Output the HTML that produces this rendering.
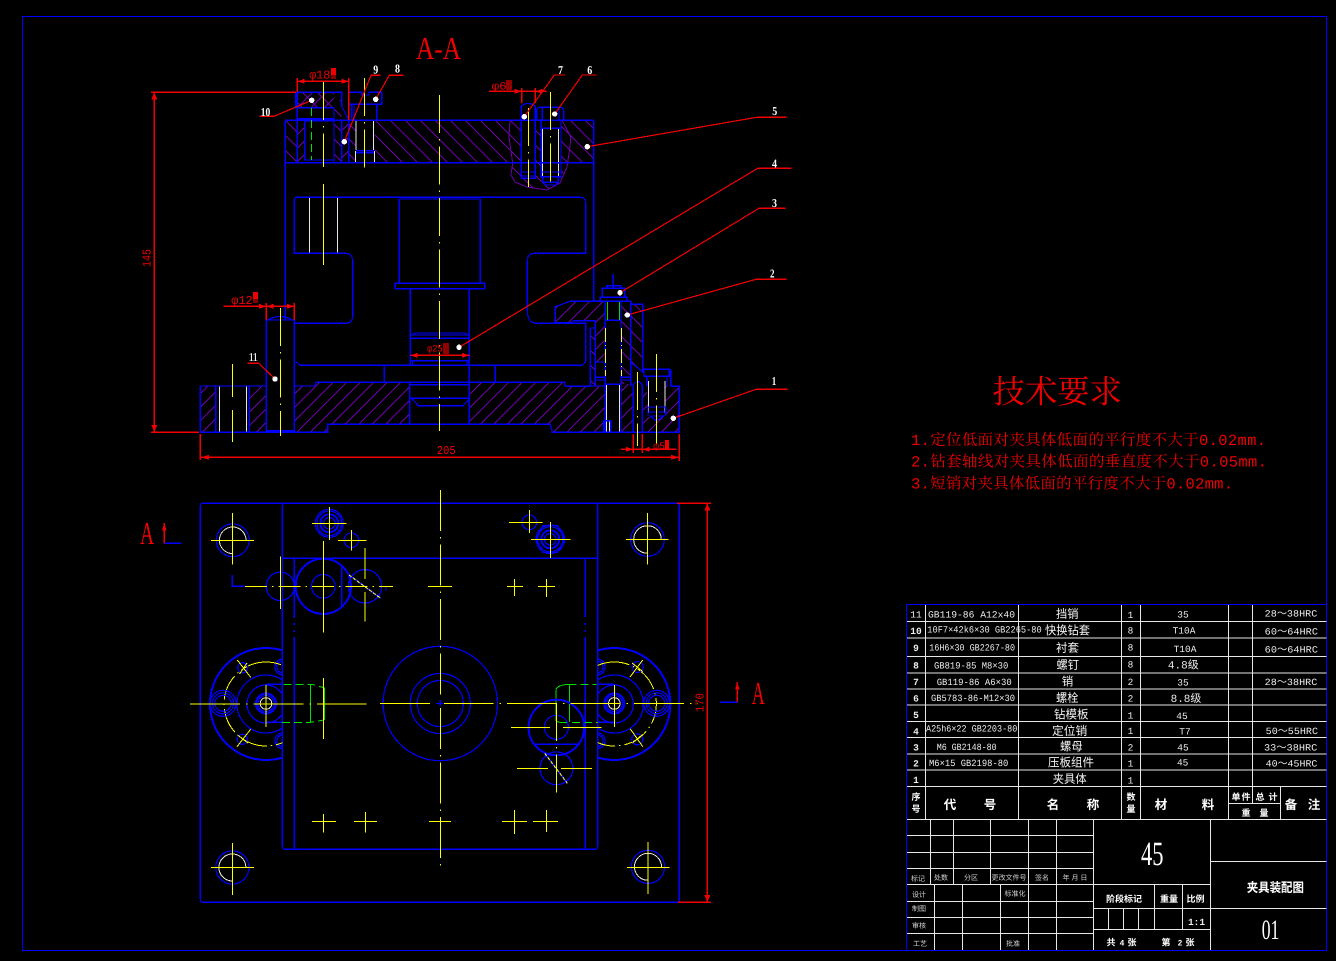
<!DOCTYPE html>
<html lang="zh">
<head>
<meta charset="utf-8">
<title>夹具装配图</title>
<style>
html,body{margin:0;padding:0;background:#000;width:1336px;height:961px;overflow:hidden}
svg{display:block}
svg *{shape-rendering:crispEdges}
.b{stroke:#0000ff;stroke-width:1.2;fill:none}
.bt{stroke:#0000ff;stroke-width:2;fill:none}
.y{stroke:#ffff00;stroke-width:1;fill:none}
.yd{stroke:#ffff00;stroke-width:1;fill:none;stroke-dasharray:38 6 1.5 6}
.yr{stroke:#ffff00;stroke-width:1;fill:none;stroke-dasharray:22 5 1.5 5}
.g{stroke:#00e000;stroke-width:1;fill:none}
.gd{stroke:#00e000;stroke-width:1;fill:none;stroke-dasharray:8 4}
.w{stroke:#e6e6e6;stroke-width:1;fill:none}
.r{stroke:#f00000;stroke-width:1.2;fill:none}
.p{stroke:#6c00a8;stroke-width:1;fill:none}
text{font-family:"Liberation Mono","Noto Sans CJK SC",monospace;fill:#fff;stroke:none;text-rendering:geometricPrecision}
.t9{font-size:9.5px;fill:#ececec}
.cn{font-family:"Liberation Sans","Noto Sans CJK SC",sans-serif;font-size:12px;fill:#f2f2f2}
.cs{font-family:"Liberation Sans","Noto Sans CJK SC",sans-serif;font-size:7px;fill:#d0d0d0}
.cb{font-family:"Liberation Sans","Noto Sans CJK SC",sans-serif;font-size:12.5px;font-weight:700;fill:#fff}
.cm{font-family:"Liberation Sans","Noto Sans CJK SC",sans-serif;font-size:9px;font-weight:700;fill:#fff}
.lab{font-family:"Liberation Serif",serif;font-size:12px;font-weight:700;fill:#fff}
.dim{font-family:"Liberation Mono",monospace;font-size:12px;fill:#f00000}
.req{font-family:"Liberation Mono","Noto Serif CJK SC",serif;font-size:15.5px;fill:#f00000}
.big{font-family:"Liberation Serif",serif;fill:#f00000}
</style>
</head>
<body>
<svg xmlns="http://www.w3.org/2000/svg" width="1336" height="961" viewBox="0 0 1336 961">
<defs>
<pattern id="hf" patternUnits="userSpaceOnUse" width="13.5" height="13.5"><path d="M-1 1L1 -1M0 13.5L13.5 0M12.5 14.5L14.5 12.5" stroke="#6c00a8" stroke-width="1" fill="none"/></pattern>
<pattern id="hb" patternUnits="userSpaceOnUse" width="15" height="15"><path d="M-1 14L1 16M0 0L15 15M14 -1L16 1" stroke="#6c00a8" stroke-width="1" fill="none"/></pattern>
<clipPath id="cl"><rect x="190" y="630" width="92.3" height="140"/></clipPath>
<clipPath id="cr"><rect x="597.7" y="630" width="92" height="140"/></clipPath>
</defs>

<rect x="0" y="0" width="1336" height="961" fill="#000"/>
<rect class="b" x="22.5" y="16.5" width="1304" height="934"/>

<!-- ============ SECTION VIEW: HATCH ============ -->
<g stroke="none">
<rect x="285.3" y="120.3" width="12" height="42.4" fill="url(#hb)"/>
<rect x="297.3" y="120.3" width="7.4" height="42.4" fill="url(#hf)"/>
<rect x="334" y="120.3" width="7.7" height="42.4" fill="url(#hb)"/>
<rect x="341.7" y="120.3" width="7" height="42.4" fill="url(#hf)"/>
<rect x="297.3" y="92.3" width="36.7" height="15.4" fill="url(#hf)"/>
<rect x="297.3" y="92.3" width="36.7" height="15.4" fill="url(#hb)"/>
<rect x="334" y="100" width="7.7" height="20" fill="url(#hb)"/>
<rect x="348.7" y="120.3" width="7.3" height="42.4" fill="url(#hb)"/>
<rect x="374.7" y="120.3" width="135.3" height="42.4" fill="url(#hb)"/>
<rect x="564" y="120.3" width="29.7" height="42.4" fill="url(#hb)"/>
<path d="M510 120L509 137L512.7 163L511 175L515 182L527 187L547 190L560 183L567 167L570 147L570.7 137L562 120Z" fill="url(#hb)"/>
<rect x="521.3" y="103" width="14" height="76" fill="#000"/>
<rect x="541.3" y="108" width="19.7" height="75" fill="#000"/>
<rect x="200.3" y="386" width="15.4" height="46.3" fill="url(#hf)"/>
<rect x="249.3" y="386" width="17" height="46.3" fill="url(#hf)"/>
<path d="M294.3 386L314.7 386L316 382.3L409.7 382.3L409.7 424L327.7 424L327.7 432.3L294.3 432.3Z" fill="url(#hf)"/>
<path d="M469.3 382.3L565 382.3L565 386.3L605.3 386.3L605.3 432.3L552 432.3L552 430L550 424.3L469.3 424.3Z" fill="url(#hf)"/>
<rect x="621" y="384" width="12.3" height="48.3" fill="url(#hf)"/>
<path d="M642.3 386L646.7 386L648 407L648 416L656 421L665.7 416L665.7 386L679.3 386L679.3 432.3L642.3 432.3Z" fill="url(#hf)"/>
<path d="M555.3 306.7L570 301.3L605.3 301.3L605.3 320.3L595.7 320.3L574 320.7L571.7 322.7L555.3 322.7Z" fill="url(#hf)"/>
<rect x="621" y="301.3" width="9.7" height="82.7" fill="url(#hb)"/>
<path d="M630.7 304.3L642.7 304.3L642.7 372L630.7 362Z" fill="url(#hb)"/>
<rect x="595.7" y="320.3" width="9.6" height="41.7" fill="url(#hf)"/>
<rect x="590.3" y="328" width="5" height="58" fill="url(#hb)"/>
</g>
<path class="p" d="M510 120L509 137L512.7 163L511 175L515 182L527 187L547 190L560 183L567 167L570 147L570.7 137L562 120"/>

<!-- ============ SECTION VIEW: WHITE ============ -->
<path class="w" d="M356 121V150M373.7 121V150M355.3 151V163M374.7 151V163M309.3 197V253M337.3 197V253M219.3 386V432M246.3 386V432M542.7 128V180M558.3 128V180M606.7 384V432M619.7 384V432M605 421V432M609.7 421V432M648.3 381V413M665 381V413"/>

<!-- ============ SECTION VIEW: BLUE ============ -->
<path class="b" d="M285.3 120.3H593.7M285.3 162.7H593.7M285.3 120.3V320M593.7 120.3V301.3"/>
<path class="b" d="M295.7 92.3H341.7V107M295.7 92.3V107.7H334M297.3 92.3V162.7M334 107.7V162.7M297.3 118.7H334M348.7 120.3V162.7M341.7 120.3V162.7M304.7 121H334M304.7 121V160H334M341.7 106L348.7 120"/>
<path class="b" d="M348.7 92.3H361.7V95H369V92.3H381.7V104.3H348.7ZM351.7 104.3V120M354 104.3V120M376.7 104.3V120M356 150.7H374M356 152.7H374"/>
<!-- pin 7 and bolt 6 -->
<path class="b" d="M521.3 178.3V106Q528 101 535.3 106V178.3ZM521.3 172H535.3M521.3 176H535.3"/>
<path class="b" d="M536.7 120V111Q536.7 107.3 540 107.3H560Q563.7 107.3 563.7 111V120M536.7 120H563.7M542.3 107.3V120M559 107.3V120M541.3 120V178M561 120V178M541.3 128.3H561M541.3 172H561M541.3 176.7H561M542.7 176.7V182.3H558.3V176.7M543 182.3L545 185H556L558 182.3"/>
<!-- column body -->
<path class="b" d="M296 197.3H580Q585.7 197.3 585.7 203V253.3H535Q527.3 253.3 527.3 261V310Q527.3 323.3 536.7 323.3H585.7V361.7L582.3 365.3H300L296 361.7M294.3 320V432.3"/>
<path class="b" d="M294.3 200Q294.3 197.3 297 197.3M294.3 200V253.3H345Q352.7 253.3 352.7 261V316Q352.7 323.3 345 323.3H294.3"/>
<path class="b" d="M399.3 199V283.3M399.3 199H480.3M480.3 199V283.3M395.3 283.3H484.7V288.7H395.3ZM410.3 288.7V365.3M469.3 288.7V382.3M410.3 335H469.3M412.5 335L415 333H465L467.5 335M410.3 338.3H469.3M410.3 360.7H469.3M412.5 360.7V365M467 360.7V365M384.3 365.3V382.3M495.3 365.3V382.3"/>
<!-- base -->
<path class="b" d="M200.3 386H266.3M294.3 386H314.7L316 382.3H565V386.3H590.3M670.7 386.3H679.3V432.3H552V430L550 424.3H327.7V432.3H200.3V386M215.7 386V432.3M249.3 386V432.3M409.7 382.3V424.3M469.3 382.3V424.3M410 384.7H469M410 398.3H469.3M411.7 398.3L418.3 405.7H463L470 398.3"/>
<path class="b" d="M266.3 432.3V320H294.3M266.3 430.7H294.3M268 320Q280 313 292.6 320"/>
<!-- clamp -->
<path class="b" d="M555.3 322.7V306.7L570 301.3H630.7V386M555.3 322.7H571.7L574 320.7H595.7M630.7 304.3H642.7V372L630.7 362M595.3 320.3V386M590.3 328H595.3M590.3 328V386H605.3M595.3 362H605.3"/>
<path class="b" d="M605.3 301.3V432.3M621 301.3V432.3M605.3 320.3H621M605.3 384.3H621M602.3 297.3V288.3H624.7V297.3M606.7 288.3V285.7H620.7V288.3M600.3 301.3V297.3H626.7V301.3M613.3 274V288M595.3 377.3H605.3M595.3 380H605.3M621 377.3H630.7M621 380H630.7M603.7 420.7H610.7V432.3M603.7 420.7V432.3"/>
<path class="b" d="M633.3 432.3V385Q637.8 378 642.3 385V432.3"/>
<path class="b" d="M644 376.3V369.3H669.3V376.3ZM669.3 370H670.7V386M646.7 376.3V386M667 376.3V386M648 407H665.7M648 412H665.7M650 416H664M648 407V416M665.7 407V416M650 416L656.3 421L664 416"/>

<!-- ============ SECTION VIEW: GREEN/YELLOW ============ -->
<path class="gd" d="M311.3 108V160"/>
<path class="g" d="M607.3 302V320M619.3 302V320"/>
<path class="yd" d="M323.3 82V167"/>
<path class="y" d="M323.3 184V265"/>
<path class="yd" d="M364.3 78V168"/>
<path class="yd" d="M439.3 95V431"/>
<path class="yd" d="M280.3 308V436"/>
<path class="y" d="M232.3 364V397M232.3 410V442"/>
<path class="yd" d="M528.3 108V187"/>
<path class="yd" d="M550.3 92V187"/>
<path class="yd" d="M637.3 372V446"/>
<path class="yd" d="M656.3 354V445"/>
<path d="M605.3 328V376M621.3 328V376" stroke="#ffff00" stroke-width="1" stroke-dasharray="14 3 1 3" fill="none"/>

<!-- ============ SECTION VIEW: DIMENSIONS ============ -->
<path class="r" d="M154.3 92.3V432.3M151 432.3H199M200.3 434V460M200.3 457.3H679.3M679.3 434V461"/>
<path d="M151 92.3H296" stroke="#f00000" stroke-width="1.6" fill="none"/>
<path d="M154.3 92.5l-3 7h6zM154.3 432l-3-7h6zM201 457.3l8-2.5v5zM679 457.3l-8-2.5v5z" fill="#f00000"/>
<path class="r" d="M297.3 78V92M348.7 78V120M297.3 81.3H348.7M489 91.3H546.7M521.7 88V103M535.3 88V103M223.3 306.3H294.3M266.3 303V320M294.3 303V320M621 449.3H676.7M633.3 434V453M642.3 434V453M410.3 355.3H469.3"/>
<path d="M297.5 81.3l7-2.5v5zM348.5 81.3l-7-2.5v5zM521.5 91.3l-7-2.5v5zM535.5 91.3l7-2.5v5zM266 306.3l-7-2.5v5zM266.5 306.3l7-2.5v5zM294 306.3l-7-2.5v5zM633 449.3l-7-2.5v5zM642.5 449.3l7-2.5v5zM410.5 355.3l7-2.5v5zM469 355.3l-7-2.5v5z" fill="#f00000"/>
<text class="dim" x="309.3" y="78.3" textLength="21" lengthAdjust="spacingAndGlyphs">φ18</text>
<rect x="331" y="68" width="5" height="7" fill="#f00000"/><rect x="331" y="75" width="5" height="4" fill="#800000"/>
<text class="dim" x="231.3" y="304" textLength="21.4" lengthAdjust="spacingAndGlyphs">φ12</text>
<rect x="253" y="292" width="5" height="7" fill="#f00000"/><rect x="253" y="299" width="5" height="4" fill="#800000"/>
<text class="dim" x="427.3" y="351.7" textLength="15.4" lengthAdjust="spacingAndGlyphs" style="font-size:10px">φ25</text>
<rect x="443" y="343" width="6" height="11" fill="#900000"/>
<text class="dim" x="491.7" y="89.7" textLength="15" lengthAdjust="spacingAndGlyphs" style="font-size:11px">φ6</text>
<rect x="506" y="80" width="6" height="10" fill="#900000"/>
<text class="dim" x="653.3" y="449" textLength="11.7" lengthAdjust="spacingAndGlyphs" style="font-size:10px">φ5</text>
<rect x="665" y="440" width="4" height="9" fill="#f00000"/>
<text class="dim" x="436.7" y="454" textLength="19" lengthAdjust="spacingAndGlyphs">205</text>
<text class="dim" transform="translate(150.5 267) rotate(-90)" textLength="18" lengthAdjust="spacingAndGlyphs">145</text>
<text class="big" x="416" y="59" font-size="32" textLength="45" lengthAdjust="spacingAndGlyphs">A-A</text>

<!-- ============ LEADERS ============ -->
<path class="r" d="M311.7 100.3L274 116.3H259.3M344.3 141.7L371 75.3H380.7M375.7 99.3L389.3 75.3H403.7M524.3 116.7L554.3 75H565M554.7 114L582.3 75H596.7M587.3 146.7L756.7 117.3H786.7M459 347.3L757.7 168.3H791.7M620 292.7L759 208.3H785.7M627.3 315L756 279.3H786.7M673.3 418.3L756 389.3H787.3M275 379L258.7 363.3H247.3"/>
<g fill="#fff" stroke="none">
<circle cx="311.7" cy="100.3" r="2.7"/><circle cx="344.3" cy="141.7" r="2.7"/><circle cx="375.7" cy="99.3" r="2.7"/><circle cx="524.3" cy="116.7" r="2.7"/><circle cx="554.7" cy="114" r="2.7"/><circle cx="587.3" cy="146.7" r="2.7"/><circle cx="459" cy="347.3" r="2.7"/><circle cx="620" cy="292.7" r="2.7"/><circle cx="627.3" cy="315" r="2.7"/><circle cx="673.3" cy="418.3" r="2.7"/><circle cx="275" cy="379" r="2.7"/>
</g>
<text class="lab" x="260.7" y="116" textLength="9.5" lengthAdjust="spacingAndGlyphs">10</text>
<text class="lab" x="373.3" y="73.3" textLength="5" lengthAdjust="spacingAndGlyphs">9</text>
<text class="lab" x="395" y="72.7" textLength="5" lengthAdjust="spacingAndGlyphs">8</text>
<text class="lab" x="558" y="74" textLength="5" lengthAdjust="spacingAndGlyphs">7</text>
<text class="lab" x="587.3" y="74" textLength="5" lengthAdjust="spacingAndGlyphs">6</text>
<text class="lab" x="772.3" y="115" textLength="5" lengthAdjust="spacingAndGlyphs">5</text>
<text class="lab" x="772" y="167.7" textLength="5" lengthAdjust="spacingAndGlyphs">4</text>
<text class="lab" x="772" y="207" textLength="5" lengthAdjust="spacingAndGlyphs">3</text>
<text class="lab" x="770" y="277.3" textLength="4.5" lengthAdjust="spacingAndGlyphs">2</text>
<text class="lab" x="771.7" y="385" textLength="4.5" lengthAdjust="spacingAndGlyphs">1</text>
<text class="lab" x="248.3" y="361" textLength="10" style="font-weight:400">11</text>

<!-- ============ TOP VIEW: BLUE ============ -->
<rect class="b" x="200.3" y="503.3" width="479" height="399" rx="2.5"/>
<rect class="b" x="282.3" y="503.3" width="315.4" height="346" rx="2.5"/>
<path class="b" d="M282.3 558.3H597.7M294.3 558.3V618M294.3 623V625M294.3 630V632M294.3 637V849.3M585.3 558.3V617M585.3 623V625M585.3 630V632M585.3 637V849.3"/>

<!-- corner holes -->
<g>
<circle class="b" cx="232.7" cy="540.3" r="16.4"/><circle class="b" cx="647.5" cy="539.5" r="16.8"/><circle class="b" cx="232.4" cy="867.5" r="16.6"/><circle class="b" cx="648" cy="866.8" r="16.6"/>
<path class="w" d="M246 540.3A13.3 13.3 0 1 0 232.7 553.6M661.3 539.5A13.8 13.8 0 1 0 647.5 553.3M245.9 867.5A13.5 13.5 0 1 0 232.4 881M661.5 866.8A13.5 13.5 0 1 0 648 880.3"/>
<path class="y" d="M211 540.3H254M232.7 513V564.7M626 539.3H668.7M647.3 513V564.7M211 867.7H254M232.4 843V895M627 867.3H669.7M648 842V894"/>
</g>

<!-- top nuts and small holes -->
<circle class="b" cx="329.3" cy="523.3" r="14"/><circle class="b" cx="329.3" cy="523.3" r="12.3"/><circle class="bt" cx="329.3" cy="523.3" r="9"/><circle class="b" cx="329.3" cy="523.3" r="5.8"/>
<path class="y" d="M312 523.3H346.7M329.3 507V540"/>
<circle class="b" cx="351.3" cy="540.3" r="7.3"/><path class="y" d="M338 540.3H366.7M351.3 530V550.7"/>
<circle class="b" cx="529.3" cy="522.3" r="7.3"/><path class="y" d="M509 522.3H542.7M529.3 510V533"/>
<circle class="b" cx="550.3" cy="539.3" r="14.3"/><circle class="b" cx="550.3" cy="539.3" r="12.6"/><circle class="bt" cx="550.3" cy="539.3" r="9"/><circle class="b" cx="550.3" cy="539.3" r="5.8"/>
<path class="b" d="M543 525.5H557.5L564.7 539.3L557.5 552.5H543L536 539.3Z"/>
<path class="y" d="M531 539.3H570.7M550.3 522V558"/>

<!-- row at y=586 -->
<path class="b" d="M232.3 575V586.3H245"/>
<circle class="b" cx="280.3" cy="586.3" r="14.2"/>
<circle class="bt" cx="323.3" cy="586.3" r="27.6"/>
<circle class="b" cx="323.3" cy="586.3" r="11.8"/>
<path class="b" d="M341.7 566.7V608"/>
<circle class="b" cx="365" cy="586.3" r="16.7"/>
<path d="M349 575L380.7 598.3" stroke="#2020ff" stroke-width="1.6" fill="none"/>
<path class="y" d="M349 575L380.7 598.3" stroke-dasharray="3 2"/>
<path class="b" d="M386 586.3V591"/>
<path class="yr" d="M245 586.3H393"/>
<path class="y" d="M280.3 556.7V609M323.3 541V632.7M365 548V579M365 592V621.7M428 586.3H452M507 586.3H523M514.3 579V596M538 586.3H555M546.3 579V597"/>

<!-- center disc -->
<circle class="b" cx="440.3" cy="703.5" r="57.2"/><circle class="b" cx="440.3" cy="703.5" r="30"/><circle class="b" cx="440.3" cy="703.5" r="23"/>

<!-- left lug -->
<g clip-path="url(#cl)">
<circle class="bt" cx="266" cy="704" r="56"/>
<circle class="b" cx="266" cy="704" r="29"/>
<circle class="b" cx="266" cy="704" r="19"/>
<circle class="b" cx="283" cy="667" r="6"/><circle class="b" cx="283" cy="667" r="8"/>
<circle class="b" cx="283" cy="740.7" r="6"/><circle class="b" cx="283" cy="740.7" r="8"/>
<path d="M266 704m0-42a42 42 0 1 0 0.1 0" stroke="#ffff00" stroke-width="1" fill="none" stroke-dasharray="26 4 1.5 4"/>
</g>
<circle class="b" cx="223" cy="703.3" r="13"/><circle class="b" cx="223" cy="703.3" r="10.5"/><circle class="b" cx="223" cy="703.3" r="8"/>
<circle class="bt" cx="266" cy="703.5" r="10"/><circle class="b" cx="266" cy="703.5" r="8"/><circle class="w" cx="266" cy="703.5" r="5.8"/>
<circle class="b" cx="242.7" cy="667.7" r="5"/><circle class="b" cx="242.3" cy="739.3" r="5"/>
<path class="y" d="M237.3 660L250.7 677.3M239.5 674L247 663M237 746.7L250.6 729.3M237.5 735L248 743"/>
<path class="b" d="M266 684.3H282.3M266 722.3H282.3M294.3 684V722"/>
<path class="gd" d="M283.3 684.3H311.7L325 688M282 722.3H310.5L324 720"/>
<path class="g" d="M310.4 684.3V722M324.3 688V720"/>
<path class="y" d="M323.3 678V739M266 685V727"/>

<!-- right lug -->
<g clip-path="url(#cr)">
<circle class="bt" cx="614.3" cy="704" r="56"/>
<circle class="b" cx="614.3" cy="704" r="29"/>
<circle class="b" cx="614.3" cy="704" r="19"/>
<circle class="b" cx="597" cy="667" r="6"/><circle class="b" cx="597" cy="667" r="8"/>
<circle class="b" cx="597" cy="740.7" r="6"/><circle class="b" cx="597" cy="740.7" r="8"/>
<path d="M614.3 704m0-42a42 42 0 1 0 0.1 0" stroke="#ffff00" stroke-width="1" fill="none" stroke-dasharray="26 4 1.5 4"/>
</g>
<circle class="b" cx="656.7" cy="703.3" r="13"/><circle class="b" cx="656.7" cy="703.3" r="10.5"/><circle class="b" cx="656.7" cy="703.3" r="8"/>
<circle class="bt" cx="614.3" cy="703.5" r="10"/><circle class="b" cx="614.3" cy="703.5" r="8"/><circle class="w" cx="614.3" cy="703.5" r="5.8"/>
<circle class="b" cx="637.7" cy="667" r="5.5"/><circle class="b" cx="637.3" cy="739.3" r="5.5"/>
<path class="y" d="M630 677L642.7 660M632 663L643 671.7M630.4 729L642.8 746.7M632.5 743L642 735"/>
<path class="b" d="M597.7 684.3H614.3M597.7 722.3H614.3"/>
<path class="gd" d="M568.3 684.3H596.7M560 722.3H598"/>
<path class="g" d="M556 689.3Q558 685 568.3 684.3M556 689.3V720Q556 722 560 722.3M569.4 684.3V722"/>
<path class="y" d="M614.3 685V727"/>

<!-- lower right circles -->
<circle class="bt" cx="556.4" cy="727.5" r="27.8"/>
<circle class="b" cx="556.4" cy="727.3" r="12"/>
<path class="b" d="M534 744.3H578.4"/>
<circle class="b" cx="556.4" cy="768.3" r="16.4"/>
<path d="M544.7 753.3L567.4 783.3" stroke="#2020ff" stroke-width="1.6" fill="none"/>
<path class="y" d="M544.7 753.3L567.4 783.3" stroke-dasharray="3 2"/>
<path class="y" d="M511 727.3H550M563 727.3H601.5M517 768.3H548M561 768.3H592"/>
<path class="yd" d="M556.4 703V795.7"/>

<!-- main centerlines -->
<path d="M190 704H366.7M380 703.3H698" stroke="#ffff00" stroke-width="1" fill="none" stroke-dasharray="50 6 1.5 6"/>
<path d="M440.3 490V866.7" stroke="#ffff00" stroke-width="1" fill="none" stroke-dasharray="41 6 1.5 6"/>
<path class="b" d="M440.3 700V706M436 703.5H444"/>

<!-- bottom crosses -->
<path class="y" d="M312 821.3H336M323.3 814V832.7M354 821.3H377M365.3 812V832.7M429 821.3H451M502 821.3H527M514.4 810V834M533 821.3H558M546.4 810V832"/>

<!-- dim 170 and A marks -->
<path class="r" d="M707.3 503.3V902.3M677 503.3H711M678 902.3H711"/>
<path d="M707.3 503.5l-3 7h6zM707.3 902l-3-7h6z" fill="#f00000"/>
<text class="dim" transform="translate(703.5 712) rotate(-90)" textLength="19" lengthAdjust="spacingAndGlyphs">170</text>
<text class="big" x="140" y="544" font-size="32" textLength="14" lengthAdjust="spacingAndGlyphs">A</text>
<path class="r" d="M164.3 523V543.3"/><path d="M164.3 522.7l-2.3 8h4.6z" fill="#f00000"/>
<path class="b" d="M164.3 543.3H181.7"/>
<text class="big" x="751.7" y="704" font-size="32" textLength="13" lengthAdjust="spacingAndGlyphs">A</text>
<path class="r" d="M737.3 682V702.3"/><path d="M737.3 681.7l-2.3 8h4.6z" fill="#f00000"/>
<path class="b" d="M720 702.3H737.3"/>

<!-- ============ TECHNICAL REQUIREMENTS ============ -->
<text class="big" x="992.5" y="403" font-size="32.5" textLength="129.5" style="font-family:'Noto Serif CJK SC',serif">技术要求</text>
<text class="req" x="911" y="445" textLength="355">1.定位低面对夹具体低面的平行度不大于0.02mm.</text>
<text class="req" x="911" y="466.5" textLength="356">2.钻套轴线对夹具体低面的垂直度不大于0.05mm.</text>
<text class="req" x="911" y="488.5" textLength="322">3.短销对夹具体低面的平行度不大于0.02mm.</text>

<!-- ============ TABLE LINES ============ -->
<path class="w" d="M906 621.7H1326.5M906 638H1326.5M906 656.7H1326.5M906 673H1326.5M906 689H1326.5M906 705H1326.5M906 721.7H1326.5M906 737.7H1326.5M906 754H1326.5M906 770H1326.5M906 786.7H1326.5M906 819.7H1326.5M925.7 605V819.7M1018.3 605V819.7M1121.3 605V819.7M1140.3 605V819.7M1228.3 605V819.7M1252.3 605V803.3M1280.7 786.7V819.7M1228.3 803.3H1280.7"/>
<path class="w" d="M906 835.3H1093.3M906 852.3H1093.3M906 868.3H1093.3M906 884.3H1210.3M906 901.3H1093.3M906 917.3H1093.3M906 933.3H1093.3M930.3 819.7V884.3M953.3 819.7V884.3M990.3 819.7V884.3M1028.3 819.7V950M1056.3 819.7V950M934.3 884.3V950M962.3 884.3V950M1000.3 884.3V950M1093.3 819.7V950M1210.3 819.7V950M1210.3 861.3H1326.5M1210.3 908.3H1326.5M1093.3 908.3H1210.3M1093.3 929.3H1210.3M1154.3 884.3V929.3M1182.3 884.3V929.3M1108.3 908.3V929.3M1123.3 908.3V929.3M1138.3 908.3V929.3"/>
<path class="b" d="M906.5 604.5H1326.5M906.5 604.5V950.5"/>

<!-- row numbers -->
<g class="t9" text-anchor="middle">
<text x="916" y="617.5" class="t9">11</text>
<text x="916" y="634" class="t9" font-weight="700">10</text>
<text x="916" y="651" class="t9" font-weight="700">9</text>
<text x="916" y="668.5" class="t9" font-weight="700">8</text>
<text x="916" y="685" class="t9" font-weight="700">7</text>
<text x="916" y="701.5" class="t9" font-weight="700">6</text>
<text x="916" y="718" class="t9" font-weight="700">5</text>
<text x="916" y="734.5" class="t9" font-weight="700">4</text>
<text x="916" y="750.5" class="t9" font-weight="700">3</text>
<text x="916" y="766.5" class="t9" font-weight="700">2</text>
<text x="916" y="783" class="t9" font-weight="700">1</text>
</g>

<!-- codes -->
<text class="t9" x="928" y="617.3" textLength="87" lengthAdjust="spacingAndGlyphs">GB119-86 A12x40</text>
<text class="t9" x="927.3" y="632.7" textLength="114.4" lengthAdjust="spacingAndGlyphs">10F7×42k6×30 GB2265-80</text>
<text class="t9" x="929.3" y="650.7" textLength="85.7" lengthAdjust="spacingAndGlyphs">16H6×30 GB2267-80</text>
<text class="t9" x="934" y="668.7" textLength="74.3" lengthAdjust="spacingAndGlyphs">GB819-85 M8×30</text>
<text class="t9" x="936.7" y="685" textLength="75" lengthAdjust="spacingAndGlyphs">GB119-86 A6×30</text>
<text class="t9" x="931" y="701" textLength="84" lengthAdjust="spacingAndGlyphs">GB5783-86-M12×30</text>
<text class="t9" x="926" y="731.7" textLength="91.3" lengthAdjust="spacingAndGlyphs">A25h6×22 GB2203-80</text>
<text class="t9" x="936.7" y="750" textLength="60" lengthAdjust="spacingAndGlyphs">M6 GB2148-80</text>
<text class="t9" x="929" y="766" textLength="79.3" lengthAdjust="spacingAndGlyphs">M6×15 GB2198-80</text>

<!-- names -->
<text class="cn" x="1056" y="618" textLength="22.5" lengthAdjust="spacingAndGlyphs">挡销</text>
<text class="cn" x="1045" y="634.5" textLength="45" lengthAdjust="spacingAndGlyphs">快换钻套</text>
<text class="cn" x="1056" y="652" textLength="23" lengthAdjust="spacingAndGlyphs">衬套</text>
<text class="cn" x="1056.5" y="669" textLength="22.5" lengthAdjust="spacingAndGlyphs">螺钉</text>
<text class="cn" x="1061.7" y="685.5" textLength="11.5" lengthAdjust="spacingAndGlyphs">销</text>
<text class="cn" x="1056" y="702" textLength="22.5" lengthAdjust="spacingAndGlyphs">螺栓</text>
<text class="cn" x="1054" y="718.5" textLength="34.5" lengthAdjust="spacingAndGlyphs">钻模板</text>
<text class="cn" x="1052" y="735" textLength="35.3" lengthAdjust="spacingAndGlyphs">定位销</text>
<text class="cn" x="1060" y="750.5" textLength="22.7" lengthAdjust="spacingAndGlyphs">螺母</text>
<text class="cn" x="1048" y="766.5" textLength="46" lengthAdjust="spacingAndGlyphs">压板组件</text>
<text class="cn" x="1052.7" y="783" textLength="34" lengthAdjust="spacingAndGlyphs">夹具体</text>

<!-- qty -->
<g text-anchor="middle">
<text class="t9" x="1130.5" y="618">1</text>
<text class="t9" x="1130.5" y="633.3">8</text>
<text class="t9" x="1130.5" y="650.7">8</text>
<text class="t9" x="1130.5" y="667.7">8</text>
<text class="t9" x="1130.5" y="685">2</text>
<text class="t9" x="1130.5" y="701.7">2</text>
<text class="t9" x="1130.5" y="718.3">1</text>
<text class="t9" x="1130.5" y="734">1</text>
<text class="t9" x="1130.5" y="750.7">2</text>
<text class="t9" x="1130.5" y="766.7">1</text>
<text class="t9" x="1130.5" y="783.3">1</text>
<!-- material -->
<text class="t9" x="1183" y="617.5">35</text>
<text class="t9" x="1184" y="633.5">T10A</text>
<text class="t9" x="1185" y="652">T10A</text>
<text class="t9" x="1183.3" y="668.5" style="font-size:11px">4.8级</text>
<text class="t9" x="1183" y="685.5">35</text>
<text class="t9" x="1186" y="702" style="font-size:11px">8.8级</text>
<text class="t9" x="1182" y="719">45</text>
<text class="t9" x="1185" y="734.5">T7</text>
<text class="t9" x="1183" y="750.5">45</text>
<text class="t9" x="1182.7" y="765.5">45</text>
</g>

<!-- remarks -->
<text class="t9" x="1264.7" y="616.7" textLength="52.6" lengthAdjust="spacingAndGlyphs">28～38HRC</text>
<text class="t9" x="1264.7" y="634.3" textLength="53.3" lengthAdjust="spacingAndGlyphs">60～64HRC</text>
<text class="t9" x="1264.7" y="652.5" textLength="53.3" lengthAdjust="spacingAndGlyphs">60～64HRC</text>
<text class="t9" x="1264.7" y="685" textLength="52.6" lengthAdjust="spacingAndGlyphs">28～38HRC</text>
<text class="t9" x="1265.7" y="734" textLength="52.3" lengthAdjust="spacingAndGlyphs">50～55HRC</text>
<text class="t9" x="1264" y="750.7" textLength="53.3" lengthAdjust="spacingAndGlyphs">33～38HRC</text>
<text class="t9" x="1265.7" y="766.7" textLength="51.7" lengthAdjust="spacingAndGlyphs">40～45HRC</text>

<!-- table header -->
<g text-anchor="middle">
<text class="cm" x="916" y="800">序</text><text class="cm" x="916" y="812">号</text>
<text class="cb" x="950" y="809">代</text><text class="cb" x="990" y="809">号</text>
<text class="cb" x="1053" y="809">名</text><text class="cb" x="1093" y="809">称</text>
<text class="cm" x="1131" y="800">数</text><text class="cm" x="1131" y="812">量</text>
<text class="cb" x="1161" y="809">材</text><text class="cb" x="1208" y="809">料</text>
<text class="cm" x="1236" y="800">单</text><text class="cm" x="1246" y="800">件</text>
<text class="cm" x="1260" y="800">总</text><text class="cm" x="1273" y="800">计</text>
<text class="cm" x="1246" y="816">重</text><text class="cm" x="1264" y="816">量</text>
<text class="cb" x="1291" y="809">备</text><text class="cb" x="1314" y="809">注</text>
</g>

<!-- title block small -->
<g text-anchor="middle">
<text class="cs" x="918" y="881">标记</text>
<text class="cs" x="941" y="880">处数</text>
<text class="cs" x="971" y="880">分区</text>
<text class="cs" x="1009" y="880">更改文件号</text>
<text class="cs" x="1042" y="880">签名</text>
<text class="cs" x="1075" y="880" xml:space="preserve">年 月 日</text>
<text class="cs" x="919" y="897">设计</text>
<text class="cs" x="919" y="911">制图</text>
<text class="cs" x="919" y="928">审核</text>
<text class="cs" x="920" y="946">工艺</text>
<text class="cs" x="1015" y="896">标准化</text>
<text class="cs" x="1013" y="946">批准</text>
<text class="cm" x="1124" y="902">阶段标记</text>
<text class="cm" x="1169" y="902">重量</text>
<text class="cm" x="1195.5" y="902">比例</text>
<text class="t9" x="1196.5" y="925" font-weight="700">1:1</text>
<text class="cm" x="1111" y="945.5">共</text>
<text class="cm" x="1122" y="945.5" style="font-size:8px">4</text>
<text class="cm" x="1132" y="945.5">张</text>
<text class="cm" x="1166" y="945.5">第</text>
<text class="cm" x="1180" y="945.5" style="font-size:8px">2</text>
<text class="cm" x="1190" y="945.5">张</text>
</g>
<text x="1141" y="865" font-size="34" textLength="22.5" lengthAdjust="spacingAndGlyphs" style="font-family:'Liberation Serif',serif">45</text>
<text class="cb" x="1246.7" y="892" textLength="57.3" lengthAdjust="spacingAndGlyphs" style="font-size:13px">夹具装配图</text>
<text x="1261.7" y="939" font-size="28" textLength="17.6" lengthAdjust="spacingAndGlyphs" style="font-family:'Liberation Serif',serif">01</text>
</svg>
</body>
</html>
